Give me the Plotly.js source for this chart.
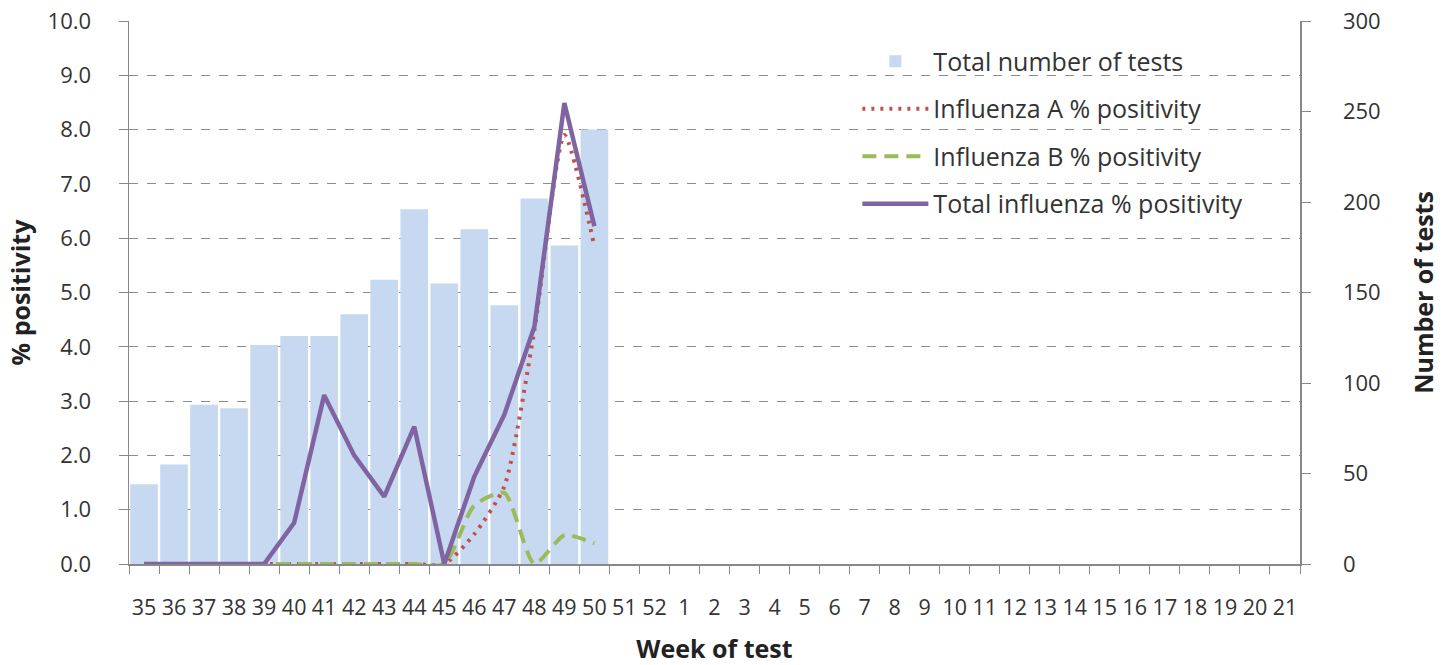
<!DOCTYPE html>
<html>
<head>
<meta charset="utf-8">
<script src="https://cdn.plot.ly/plotly-3.0.1.min.js"></script>
<style>html,body{margin:0;padding:0;background:#fff;}#chart{width:1447px;height:665px;}</style>
</head>
<body>
<div id="chart"></div>
<script>
const weeks = ['35','36','37','38','39','40','41','42','43','44','45','46','47','48','49','50','51','52',
  '1','2','3','4','5','6','7','8','9','10','11','12','13','14','15','16','17','18','19','20','21'];
const totalTests = [44,55,88,86,121,126,126,138,157,196,155,185,143,202,176,240];
const fluA = [0,0,0,0,0,0,0,0,0,0,0,0.55,1.43,4.3,7.9,5.85];
const fluB = [0,0,0,0,0,0,0,0,0,0,0,1.08,1.31,0,0.53,0.38];
const fluTotal = [0,0,0,0,0,0.76,3.11,2.0,1.24,2.53,0,1.61,2.75,4.37,8.49,6.22];
const leftTicks = [0,1,2,3,4,5,6,7,8,9,10];
const rightTicks = [0,50,100,150,200,250,300];

const fontFam = 'Open Sans, Liberation Sans, sans-serif';
const txt = '#333333';

const traces = [
  {type:'bar', name:'Total number of tests', x:weeks.slice(0,totalTests.length), y:totalTests,
   yaxis:'y', marker:{color:'#c6d9f1'}, legendgroup:'a', hoverinfo:'x+y'},
  {type:'scatter', mode:'lines', name:'Influenza A % positivity', x:weeks.slice(0,fluA.length), y:fluA,
   yaxis:'y2', line:{color:'#c0504d', width:4, dash:'3px,6px', shape:'spline', smoothing:0.6}, legendgroup:'b'},
  {type:'scatter', mode:'lines', name:'Influenza B % positivity', x:weeks.slice(0,fluB.length), y:fluB,
   yaxis:'y2', line:{color:'#9bbb59', width:4, dash:'14px,8px', shape:'spline', smoothing:0.6}, legendgroup:'c'},
  {type:'scatter', mode:'lines', name:'Total influenza % positivity', x:weeks.slice(0,fluTotal.length), y:fluTotal,
   yaxis:'y2', line:{color:'#8064a2', width:4.5}, legendgroup:'d'}
];

const layout = {
  width:1447, height:665,
  margin:{l:129, r:147, t:21, b:101},
  paper_bgcolor:'#fff', plot_bgcolor:'rgba(0,0,0,0)',
  font:{family:fontFam, color:txt, size:18},
  bargap:0.08,
  showlegend:true,
  legend:{x:0.622, y:0.968, xanchor:'left', yanchor:'top', font:{size:25, color:txt, family:fontFam},
          traceorder:'grouped', tracegroupgap:12, itemwidth:66, bgcolor:'rgba(0,0,0,0)'},
  xaxis:{type:'category', categoryorder:'array', categoryarray:weeks, range:[-0.5, weeks.length-0.5],
         tickson:'boundaries', ticks:'outside', ticklen:8, tickcolor:'#888', showline:true, linecolor:'#888', linewidth:1.5,
         showgrid:false, tickangle:0, tickfont:{size:21.5, color:txt}, ticklabelstandoff:24,
         title:{text:'<b>Week of test</b>', font:{size:25, color:'#222'}, standoff:30}},
  yaxis:{range:[0,300], tickvals:rightTicks, side:'right', showgrid:false, zeroline:false,
         ticks:'outside', ticklen:9, tickcolor:'#888', showline:true, linecolor:'#888', linewidth:1.5,
         tickfont:{size:22, color:txt}, ticklabelstandoff:28,
         title:{text:'<b>Number of tests</b>', font:{size:25, color:'#222'}, standoff:36}},
  yaxis2:{range:[0,10], tickvals:leftTicks, tickformat:'.1f', side:'left', overlaying:'y',
          showgrid:true, gridcolor:'#8c8c8c', gridwidth:1, griddash:'dash', zeroline:false,
          ticks:'outside', ticklen:9, tickcolor:'#888', showline:true, linecolor:'#888', linewidth:1.5,
          tickfont:{size:22, color:txt}, ticklabelstandoff:23,
          title:{text:'<b>% positivity</b>', font:{size:25, color:'#222'}, standoff:10}}
};

Plotly.newPlot('chart', traces, layout, {displayModeBar:false, staticPlot:true});
</script>
</body>
</html>
